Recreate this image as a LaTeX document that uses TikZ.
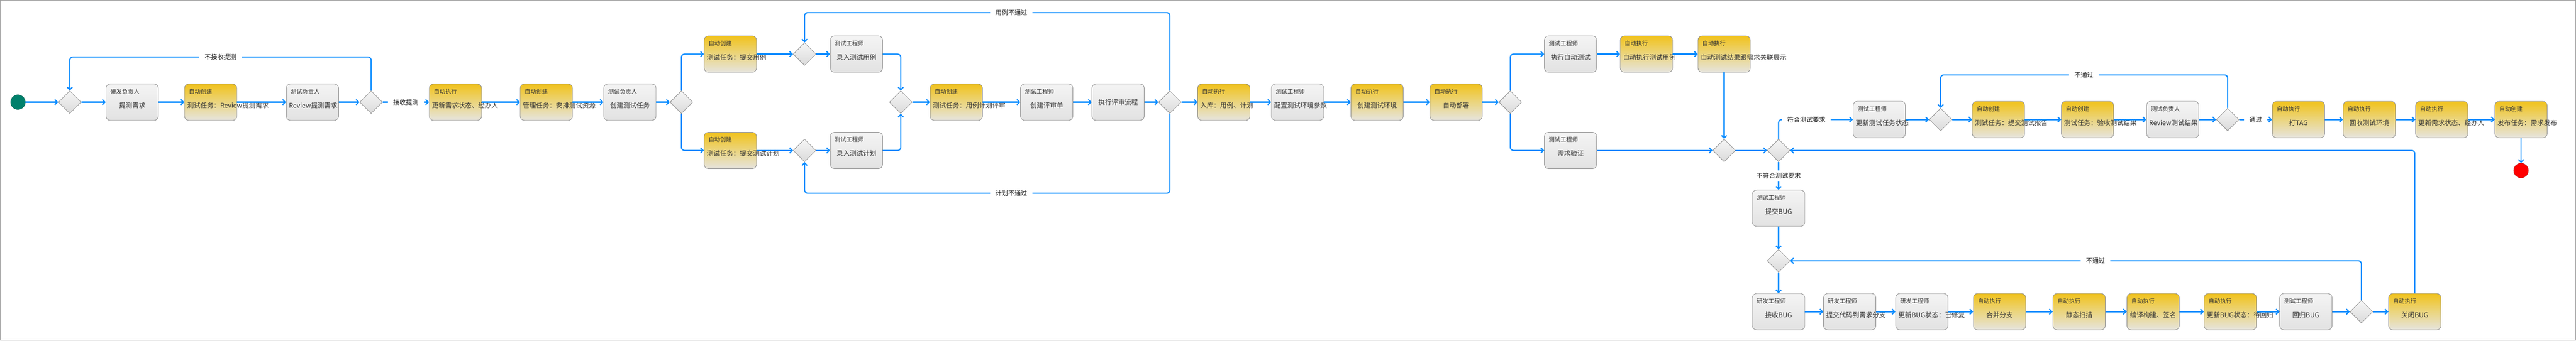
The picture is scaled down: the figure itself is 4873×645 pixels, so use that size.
\documentclass[tikz,border=0pt]{standalone}
\usepackage{fontspec}
\setmainfont{Noto Sans CJK SC}
\usetikzlibrary{shapes.geometric,arrows.meta}

\definecolor{flowblue}{HTML}{0A8CFF}
\definecolor{boxline}{HTML}{8C8C8C}
\definecolor{gtop}{HTML}{F4F4F4}
\definecolor{gbot}{HTML}{E2E2E2}
\definecolor{ytop}{HTML}{F1C21B}
\definecolor{ymid}{HTML}{EBD57F}
\definecolor{ybot}{HTML}{E6E4DE}
\definecolor{dtop}{HTML}{F6F6F6}
\definecolor{dbot}{HTML}{DADADA}
\definecolor{txt}{HTML}{333333}
\definecolor{startgreen}{HTML}{00806B}
\definecolor{framegray}{HTML}{9A9A9A}

\begin{document}
\begin{tikzpicture}[x=1pt,y=-1pt,
  act/.style={rectangle,rounded corners=8pt,draw=boxline,line width=0.8pt,
    minimum width=99pt,minimum height=69pt,inner xsep=5pt,inner ysep=0pt,
    text width=89pt,align=center,text height=21pt,text depth=0pt,
    font=\fontsize{12.5}{15}\selectfont,text=txt,label distance=0pt},
  gbox/.style={act,top color=gtop,bottom color=gbot},
  ybox/.style={act,top color=ytop,bottom color=ybot,middle color=ymid},
  hd/.style={anchor=north west,inner xsep=8.5pt,inner ysep=0pt,
    text height=18.5pt,text depth=0pt,font=\fontsize{11}{13}\selectfont,text=txt},
  dia/.style={diamond,aspect=1,minimum width=43pt,minimum height=43pt,inner sep=0pt,
    draw=boxline,line width=0.8pt,top color=dtop,bottom color=dbot},
  startdot/.style={circle,minimum size=28pt,inner sep=0pt,fill=startgreen,draw=startgreen!70!black},
  enddot/.style={circle,minimum size=28pt,inner sep=0pt,fill=red,draw=red!60!black},
  flow/.style={draw=flowblue,line width=2.2pt,->,>={Straight Barb[length=5pt,width=10pt]},
    rounded corners=6pt},
  elbl/.style={fill=white,inner xsep=10pt,inner ysep=5pt,font=\fontsize{12}{14}\selectfont,text=black!90},
  frame/.style={draw=framegray,line width=1pt}
]
\useasboundingbox (0,0) rectangle (4873,645);
\draw[frame] (0.5,0.5) rectangle (4872.5,644.5);

% requirement intake
\node[startdot] (start) at (34,193.5) {};
\node[dia] (d1) at (132,193.5) {};
\node[gbox,label={[hd]north west:研发负责人}] (b1) at (250,193.5) {提测需求};
\node[ybox,label={[hd]north west:自动创建}] (b2) at (398.5,193.5) {测试任务：Review提测需求};
\node[gbox,label={[hd]north west:测试负责人}] (b3) at (591,193.5) {Review提测需求};
\node[dia] (d2) at (702,193.5) {};
\node[ybox,label={[hd]north west:自动执行}] (b4) at (861.5,193.5) {更新需求状态、经办人};
\node[ybox,label={[hd]north west:自动创建}] (b5) at (1033.5,193.5) {管理任务：安排测试资源};
\node[gbox,label={[hd]north west:测试负责人}] (b6) at (1191.5,193.5) {创建测试任务};
\node[dia] (d3) at (1289,193.5) {};

% cases and plan
\node[ybox,label={[hd]north west:自动创建}] (b7) at (1381.5,102.5) {测试任务：提交用例};
\node[ybox,label={[hd]north west:自动创建}] (b8) at (1381.5,285) {测试任务：提交测试计划};
\node[dia] (d4) at (1522,102.5) {};
\node[dia] (d4b) at (1522,285) {};
\node[gbox,label={[hd]north west:测试工程师}] (b9) at (1620,102.5) {录入测试用例};
\node[gbox,label={[hd]north west:测试工程师}] (b10) at (1620,285) {录入测试计划};
\node[dia] (d5) at (1704,193.5) {};
\node[ybox,label={[hd]north west:自动创建}] (b11) at (1809,193.5) {测试任务：用例计划评审};
\node[gbox,label={[hd]north west:测试工程师}] (b12) at (1980,193.5) {创建评审单};
\node[gbox,text height=9.5pt] (b13) at (2115,193.5) {执行评审流程};
\node[dia] (d6) at (2213,193.5) {};

% environment and testing
\node[ybox,label={[hd]north west:自动执行}] (b14) at (2315,193.5) {入库：用例、计划};
\node[gbox,label={[hd]north west:测试工程师}] (b15) at (2454.5,193.5) {配置测试环境参数};
\node[ybox,label={[hd]north west:自动执行}] (b16) at (2605,193.5) {创建测试环境};
\node[ybox,label={[hd]north west:自动执行}] (b17) at (2754.5,193.5) {自动部署};
\node[dia] (d7) at (2857,193.5) {};
\node[gbox,label={[hd]north west:测试工程师}] (b18) at (2971,102.5) {执行自动测试};
\node[ybox,label={[hd]north west:自动执行}] (b19) at (3114.5,102.5) {自动执行测试用例};
\node[ybox,label={[hd]north west:自动执行}] (b20) at (3261.5,102.5) {自动测试结果跟需求关联展示};
\node[gbox,label={[hd]north west:测试工程师}] (b21) at (2971,285) {需求验证};
\node[dia] (d8) at (3261.5,285) {};
\node[dia] (d9) at (3364.5,285) {};

% acceptance and release
\node[gbox,label={[hd]north west:测试工程师}] (b22) at (3555,226.5) {更新测试任务状态};
\node[dia] (d10) at (3671,226.5) {};
\node[ybox,label={[hd]north west:自动创建}] (b23) at (3780.5,226.5) {测试任务：提交测试报告};
\node[ybox,label={[hd]north west:自动创建}] (b24) at (3949,226.5) {测试任务：验收测试结果};
\node[gbox,label={[hd]north west:测试负责人}] (b25) at (4110,226.5) {Review测试结果};
\node[dia] (d11) at (4214,226.5) {};
\node[ybox,label={[hd]north west:自动执行}] (b26) at (4348,226.5) {打TAG};
\node[ybox,label={[hd]north west:自动执行}] (b27) at (4482,226.5) {回收测试环境};
\node[ybox,label={[hd]north west:自动执行}] (b28) at (4619,226.5) {更新需求状态、经办人};
\node[ybox,label={[hd]north west:自动创建}] (b29) at (4769,226.5) {发布任务：需求发布};
\node[enddot] (end) at (4769,323) {};

% bug loop
\node[gbox,label={[hd]north west:测试工程师}] (b30) at (3364.5,394.5) {提交BUG};
\node[dia] (d12) at (3364.5,494) {};
\node[gbox,label={[hd]north west:研发工程师}] (b31) at (3364.5,590.5) {接收BUG};
\node[gbox,label={[hd]north west:研发工程师}] (b32) at (3499,590.5) {提交代码到需求分支};
\node[gbox,label={[hd]north west:研发工程师}] (b33) at (3635.5,590.5) {更新BUG状态：已修复};
\node[ybox,label={[hd]north west:自动执行}] (b34) at (3782.5,590.5) {合并分支};
\node[ybox,label={[hd]north west:自动执行}] (b35) at (3933,590.5) {静态扫描};
\node[ybox,label={[hd]north west:自动执行}] (b36) at (4073,590.5) {编译构建、签名};
\node[ybox,label={[hd]north west:自动执行}] (b37) at (4219,590.5) {更新BUG状态：待回归};
\node[gbox,label={[hd]north west:测试工程师}] (b38) at (4362,590.5) {回归BUG};
\node[dia] (d13) at (4467,590.5) {};
\node[ybox,label={[hd]north west:自动执行}] (b39) at (4568,590.5) {关闭BUG};

% main flow
\draw[flow] (start.east) -- (d1.west);
\draw[flow] (d1.east) -- (b1.west);
\draw[flow] (b1.east) -- (b2.west);
\draw[flow] (b2.east) -- (b3.west);
\draw[flow] (b3.east) -- (d2.west);
\draw[flow] (d2.east) -- (b4.west) node[midway,elbl] (lacc) {接收提测};
\draw[flow] (b4.east) -- (b5.west);
\draw[flow] (b5.east) -- (b6.west);
\draw[flow] (b6.east) -- (d3.west);
\draw[flow] (d3.north) |- (b7.west);
\draw[flow] (d3.south) |- (b8.west);
\draw[flow] (b7.east) -- (d4.west);
\draw[flow] (d4.east) -- (b9.west);
\draw[flow] (b8.east) -- (d4b.west);
\draw[flow] (d4b.east) -- (b10.west);
\draw[flow] (b9.east) -| (d5.north);
\draw[flow] (b10.east) -| (d5.south);
\draw[flow] (d5.east) -- (b11.west);
\draw[flow] (b11.east) -- (b12.west);
\draw[flow] (b12.east) -- (b13.west);
\draw[flow] (b13.east) -- (d6.west);
\draw[flow] (d6.east) -- (b14.west);
\draw[flow] (b14.east) -- (b15.west);
\draw[flow] (b15.east) -- (b16.west);
\draw[flow] (b16.east) -- (b17.west);
\draw[flow] (b17.east) -- (d7.west);
\draw[flow] (d7.north) |- (b18.west);
\draw[flow] (d7.south) |- (b21.west);
\draw[flow] (b18.east) -- (b19.west);
\draw[flow] (b19.east) -- (b20.west);
\draw[flow] (b20.south) -- (d8.north);
\draw[flow] (b21.east) -- (d8.west);
\draw[flow] (d8.east) -- (d9.west);
\draw[flow] (d9.north) |- (b22.west);
\draw[flow] (b22.east) -- (d10.west);
\draw[flow] (d10.east) -- (b23.west);
\draw[flow] (b23.east) -- (b24.west);
\draw[flow] (b24.east) -- (b25.west);
\draw[flow] (b25.east) -- (d11.west);
\draw[flow] (d11.east) -- (b26.west) node[midway,elbl] (lpass) {通过};
\draw[flow] (b26.east) -- (b27.west);
\draw[flow] (b27.east) -- (b28.west);
\draw[flow] (b28.east) -- (b29.west);
\draw[flow] (b29.south) -- (end.north);

% bug flow
\draw[flow] (d9.south) -- (b30.north) node[midway,elbl] (lfail) {不符合测试要求};
\draw[flow] (b30.south) -- (d12.north);
\draw[flow] (d12.south) -- (b31.north);
\draw[flow] (b31.east) -- (b32.west);
\draw[flow] (b32.east) -- (b33.west);
\draw[flow] (b33.east) -- (b34.west);
\draw[flow] (b34.east) -- (b35.west);
\draw[flow] (b35.east) -- (b36.west);
\draw[flow] (b36.east) -- (b37.west);
\draw[flow] (b37.east) -- (b38.west);
\draw[flow] (b38.east) -- (d13.west);
\draw[flow] (d13.east) -- (b39.west);
\draw[flow] (b39.north) |- (d9.east);

% loops back
\draw[flow] (d2.north) -- (702,108) -| (d1.north);
\draw[flow] (d6.north) -- (2213,24) -| (d4.north);
\draw[flow] (d6.south) -- (2213,366) -| (d4b.south);
\draw[flow] (d11.north) -- (4214,142) -| (d10.north);
\draw[flow] (d13.north) |- (d12.east);
\node[elbl] (lrej) at (417,108) {不接收提测};
\node[elbl] (lcase) at (1913,24) {用例不通过};
\node[elbl] (lplan) at (1913,366) {计划不通过};
\node[elbl] (lok) at (3417,226.5) {符合测试要求};
\node[elbl] (lno1) at (3942,142) {不通过};
\node[elbl] (lno2) at (3964,494) {不通过};
\end{tikzpicture}
\end{document}
